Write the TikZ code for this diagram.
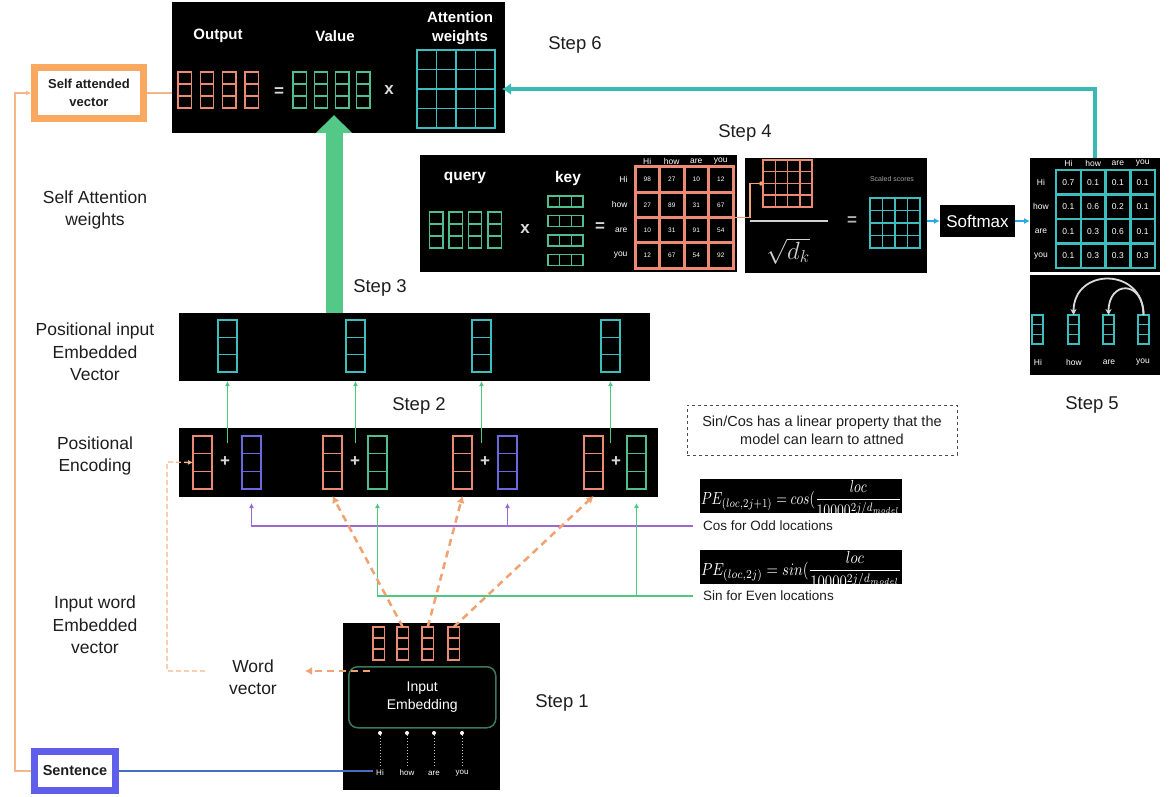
\documentclass[tikz,border=0pt]{standalone}
\usepackage{fontspec}
\setmainfont{Liberation Sans}
\usepackage{graphicx}
\usetikzlibrary{arrows.meta,calc}
\definecolor{salmon}{RGB}{236,138,115}
\definecolor{mint}{RGB}{80,190,140}
\definecolor{tealc}{RGB}{60,190,190}
\definecolor{bluev}{RGB}{105,105,225}
\definecolor{orangeb}{RGB}{249,168,96}
\definecolor{orangel}{RGB}{246,182,140}
\definecolor{orangd}{RGB}{240,162,112}
\definecolor{sentb}{RGB}{95,95,235}
\definecolor{bline}{RGB}{70,110,190}
\definecolor{purp}{RGB}{155,105,210}
\definecolor{gline}{RGB}{80,200,130}
\definecolor{bigg}{RGB}{84,201,135}
\definecolor{cyanc}{RGB}{40,170,226}
\definecolor{tline}{RGB}{58,184,178}
\definecolor{txt}{RGB}{30,30,30}
\definecolor{embg}{RGB}{60,120,90}

\newcommand{\myvv}[6]{%
  \node[draw=#6, line width=1.3pt, inner sep=0pt, outer sep=0pt, minimum width=#4pt, minimum height=#5pt, anchor=north west] (#1) at (#2,#3) {};
  \draw[#6, line width=1.3pt] ($(#1.north west)!0.3333!(#1.south west)$) -- ($(#1.north east)!0.3333!(#1.south east)$);
  \draw[#6, line width=1.3pt] ($(#1.north west)!0.6667!(#1.south west)$) -- ($(#1.north east)!0.6667!(#1.south east)$);
}
\newcommand{\myhv}[6]{%
  \node[draw=#6, line width=1.3pt, inner sep=0pt, outer sep=0pt, minimum width=#4pt, minimum height=#5pt, anchor=north west] (#1) at (#2,#3) {};
  \draw[#6, line width=1.3pt] ($(#1.north west)!0.3333!(#1.north east)$) -- ($(#1.south west)!0.3333!(#1.south east)$);
  \draw[#6, line width=1.3pt] ($(#1.north west)!0.6667!(#1.north east)$) -- ($(#1.south west)!0.6667!(#1.south east)$);
}
\newcommand{\mygrid}[7]{%
  \node[draw=#6, line width=#7pt, inner sep=0pt, outer sep=0pt, minimum width=#4pt, minimum height=#5pt, anchor=north west] (#1) at (#2,#3) {};
  \foreach \t in {0.25,0.5,0.75}{%
    \draw[#6, line width=#7pt] ($(#1.north west)!\t!(#1.north east)$) -- ($(#1.south west)!\t!(#1.south east)$);
    \draw[#6, line width=#7pt] ($(#1.north west)!\t!(#1.south west)$) -- ($(#1.north east)!\t!(#1.south east)$);
  }%
}

\tikzset{
  blk/.style={fill=black, draw=none, inner sep=0pt, outer sep=0pt, anchor=north west},
  lbl/.style={font=\fontsize{17.5}{22.5}\selectfont, align=center, text=txt},
  steplbl/.style={font=\fontsize{18.5}{22}\selectfont, text=txt},
  wlbl/.style={font=\bfseries\fontsize{15}{19}\selectfont, text=white, align=center},
  sym/.style={font=\bfseries\fontsize{17}{19}\selectfont, text=white!85!black},
  smw/.style={font=\fontsize{8.5}{10}\selectfont, text=white},
  num/.style={font=\fontsize{6.5}{8}\selectfont, text=white},
  thinarrow/.style={line width=1.3pt, -{Latex[length=5pt,width=5pt]}},
  odash/.style={orangd, line width=2.5pt, dash pattern=on 7pt off 5pt, -{Latex[length=7pt,width=8pt]}},
  formtxt/.style={text=white, inner sep=0pt, outer sep=0pt, anchor=north west},
}

\begin{document}
\begin{tikzpicture}[x=1pt,y=-1pt]
\fill[white] (0,0) rectangle (1176,797);
\useasboundingbox (0,0) rectangle (1176,797);

% ---------- Step 6 box ----------
\node[blk, minimum width=333pt, minimum height=131pt] (top) at (172,2) {};
\node[wlbl] (tout) at (218,36) {Output};
\node[wlbl] (tval) at (335,36) {Value};
\node[wlbl] (tatt) at (460,28) {Attention\\weights};
\foreach \i in {0,...,3}{%
  \pgfmathsetmacro{\xx}{178+22.3*\i}
  \myvv{ov\i}{\xx}{72}{13.5}{36}{salmon}
  \pgfmathsetmacro{\xv}{293+21.2*\i}
  \myvv{vv\i}{\xv}{72}{13.5}{36}{mint}
}
\node[sym] (teq) at (279,92) {=};
\node[sym] (tx) at (389,90) {x};
\mygrid{attw}{417}{50}{78}{78}{tealc}{1.8}
\node[steplbl] (st6) at (575,45) {Step 6};

% ---------- left labels / boxes ----------
\node[draw=orangeb, line width=7pt, fill=white, minimum width=109pt, minimum height=51pt, inner sep=0pt, font=\bfseries\fontsize{13}{18}\selectfont, align=center, text=txt] (sav) at (89,93) {Self attended\\vector};
\node[draw=sentb, line width=7pt, fill=white, minimum width=81pt, minimum height=39pt, inner sep=0pt, font=\bfseries\fontsize{14.5}{17}\selectfont, text=txt] (sen) at (75,771) {Sentence};
\node[lbl] (saw) at (95,210) {Self Attention\\weights};
\node[lbl] (pil) at (95,352) {Positional input\\Embedded\\Vector};
\node[lbl] (pel) at (95,456) {Positional\\Encoding};
\node[lbl] (iwl) at (95,625) {Input word\\Embedded\\vector};
\node[lbl] (wv) at (253,677) {Word\\vector};

% ---------- Step 4 ----------
\node[blk, minimum width=317pt, minimum height=117pt] (s4a) at (420,155) {};
\node[wlbl, font=\bfseries\fontsize{15.5}{18}\selectfont] (qry) at (465,178) {query};
\node[wlbl, font=\bfseries\fontsize{15.5}{18}\selectfont] (key) at (568,178) {key};
\foreach \i in {0,...,3}{%
  \pgfmathsetmacro{\xq}{429.7+19.4*\i}
  \myvv{q\i}{\xq}{212}{13.3}{36}{mint}
  \pgfmathsetmacro{\yk}{196+19.5*\i}
  \myhv{k\i}{548}{\yk}{35}{11}{mint}
}
\node[sym] (s4x) at (525,229) {x};
\node[sym] (s4eq) at (600,227) {=};
\mygrid{pm}{635}{167}{98}{101}{salmon}{3}
\foreach \w [count=\k from 0] in {Hi,how,are,you}{%
  \node[smw, anchor=east] (pr\k) at (631,{167+(\k+0.5)*25.25}) {\w};
  \node[smw] (pc\k) at ({635+(\k+0.5)*24.5},161) {\w};
}
\foreach \v [count=\k from 0] in {98,27,10,12,27,89,31,67,10,31,91,54,12,67,54,92}{%
  \pgfmathtruncatemacro{\r}{\k/4}
  \pgfmathtruncatemacro{\c}{mod(\k,4)}
  \node[num] (pmn\k) at ({635+(\c+0.5)*24.5},{167+(\r+0.5)*25.25}) {\v};
}
\node[blk, minimum width=182pt, minimum height=115pt] (s4b) at (745,158) {};
\mygrid{spm}{763}{160}{49}{47}{salmon}{1.5}
\draw[gray!35, line width=2pt] (750,221) -- (828,221);
\node[text=gray!35, font=\fontsize{27}{30}\selectfont] (sqd) at (788,251) {$\sqrt{d_k}$};
\node[sym, text=gray!60] (s4beq) at (852,221) {=};
\node[text=gray!70, font=\fontsize{7}{8}\selectfont] (ssl) at (892,179) {Scaled scores};
\mygrid{sst}{870}{198}{50}{50}{tealc}{1.5}
\draw[orangd, line width=1.5pt, -{Circle[length=4pt]}] (pm.east) -- ++(17,0) |- (spm.west);
\node[steplbl] (st4) at (745,133) {Step 4};

% ---------- Softmax ----------
\node[fill=black, text=white, font=\fontsize{17}{20}\selectfont, minimum width=75pt, minimum height=32pt, inner sep=0pt] (smx) at (977.5,221) {Softmax};

% ---------- Step 5 ----------
\node[blk, minimum width=130pt, minimum height=114pt] (s5a) at (1030,158) {};
\mygrid{am}{1056}{170}{99}{98}{tealc}{2.5}
\foreach \w [count=\k from 0] in {Hi,how,are,you}{%
  \node[smw] (ar\k) at (1041,{170+(\k+0.5)*24.5}) {\w};
  \node[smw] (ac\k) at ({1056+(\k+0.5)*24.75},163) {\w};
}
\foreach \v [count=\k from 0] in {0.7,0.1,0.1,0.1,0.1,0.6,0.2,0.1,0.1,0.3,0.6,0.1,0.1,0.3,0.3,0.3}{%
  \pgfmathtruncatemacro{\r}{\k/4}
  \pgfmathtruncatemacro{\c}{mod(\k,4)}
  \node[smw] (amn\k) at ({1056+(\c+0.5)*24.75},{170+(\r+0.5)*24.5}) {\v};
}
\node[blk, minimum width=130pt, minimum height=100pt] (s5b) at (1030,275) {};
\myvv{b5v1}{1032}{315}{11}{29}{tealc}
\myvv{b5v2}{1068}{315}{11}{29}{tealc}
\myvv{b5v3}{1103}{315}{11}{29}{tealc}
\myvv{b5v4}{1138}{315}{11}{29}{tealc}
\node[smw] (b5w1) at (1038,362) {Hi};
\node[smw] (b5w2) at (1074,362) {how};
\node[smw] (b5w3) at (1109,362) {are};
\node[smw] (b5w4) at (1143,362) {you};
\draw[white!85!black, line width=1.8pt, -{Stealth[length=6pt,width=6pt]}] (b5v4.north) .. controls (1143.5,267) and (1073.5,267) .. (b5v2.north);
\draw[white!85!black, line width=1.8pt, -{Stealth[length=6pt,width=6pt]}] (b5v4.north) .. controls (1143.5,280) and (1108.5,280) .. (b5v3.north);
\node[steplbl] (st5) at (1092,405) {Step 5};

% ---------- Positional input embedded vector ----------
\node[blk, minimum width=471pt, minimum height=68pt] (pie) at (179,313) {};
\myvv{pv1}{218}{320}{19}{52}{tealc}
\myvv{pv2}{346}{320}{19}{52}{tealc}
\myvv{pv3}{472}{320}{19}{52}{tealc}
\myvv{pv4}{601}{320}{19}{52}{tealc}
\node[steplbl] (st3) at (380,288) {Step 3};
\node[steplbl] (st2) at (419,406) {Step 2};

% ---------- Positional encoding ----------
\node[blk, minimum width=479pt, minimum height=69pt] (pe) at (179,428) {};
\myvv{sv1}{193}{436}{19}{53}{salmon}
\myvv{sv2}{323}{436}{19}{53}{salmon}
\myvv{sv3}{453}{436}{19}{53}{salmon}
\myvv{sv4}{584}{436}{19}{53}{salmon}
\myvv{bv1}{242}{436}{19}{53}{bluev}
\myvv{gv2}{368}{436}{19}{53}{mint}
\myvv{bv3}{498}{436}{19}{53}{bluev}
\myvv{gv4}{627}{436}{19}{53}{mint}
\node[sym] (pl1) at (225,462) {+};
\node[sym] (pl2) at (355,462) {+};
\node[sym] (pl3) at (485,462) {+};
\node[sym] (pl4) at (616,462) {+};

% ---------- notes / formulas ----------
\node[draw=gray!60!black, dashed, line width=0.9pt, minimum width=270pt, minimum height=50pt, align=center, font=\fontsize{14.5}{18}\selectfont, text=txt] (note) at (822,430) {Sin/Cos has a linear property that the\\model can learn to attned};
\node[blk, minimum width=202pt, minimum height=34pt] (f1) at (700,479) {};
\node[blk, minimum width=202pt, minimum height=34pt] (f2) at (700,550) {};
\begin{scope}
  \clip (700,479) rectangle (902,513);
  \node[formtxt] (f1t) at (701,480) {\resizebox{206pt}{24pt}{$\displaystyle PE_{(loc,2j+1)}=cos(\frac{loc}{10000^{2j/d_{model}}})$}};
\end{scope}
\begin{scope}
  \clip (700,550) rectangle (902,584);
  \node[formtxt] (f2t) at (701,551) {\resizebox{206pt}{24pt}{$\displaystyle PE_{(loc,2j)}=sin(\frac{loc}{10000^{2j/d_{model}}})$}};
\end{scope}
\node[anchor=west, font=\fontsize{13.5}{16}\selectfont, text=txt, inner sep=0pt] (cosl) at (703,526) {Cos for Odd locations};
\node[anchor=west, font=\fontsize{13.5}{16}\selectfont, text=txt, inner sep=0pt] (sinl) at (703,596) {Sin for Even locations};

% ---------- Step 1 ----------
\node[blk, minimum width=157pt, minimum height=167pt] (s1) at (343,623) {};
\myvv{ev1}{373}{627}{11.5}{33}{salmon}
\myvv{ev2}{397}{627}{11.5}{33}{salmon}
\myvv{ev3}{422}{627}{11.5}{33}{salmon}
\myvv{ev4}{448}{627}{11.5}{33}{salmon}
\node[draw=embg, line width=1.5pt, rounded corners=9pt, minimum width=147pt, minimum height=61pt, anchor=north west, text=white, font=\fontsize{14}{18.5}\selectfont, align=center, inner sep=0pt] (emb) at (348,666) {Input\\Embedding};
\foreach \w/\x [count=\k] in {Hi/380,how/407,are/434,you/462}{%
  \node[text=white, font=\fontsize{8}{9}\selectfont] (w\k) at (\x,773) {\w};
  \node[circle, fill=white, inner sep=0pt, minimum size=4pt] (d\k) at (\x,733) {};
  \draw[white!75!black, dotted, line width=1pt] (d\k) -- (w\k);
}
\node[steplbl] (st1) at (562,703) {Step 1};

% ---------- connectors ----------
\draw[orangel, line width=1.3pt] (sav.east) -- (sav.east -| top.west);
\draw[orangel, thinarrow] (sen.west) -| ([xshift=-16pt]sav.west) -- (sav.west);
\draw[bline, line width=1.3pt] (sen.east) -- (sen.east -| w1.west);

\coordinate (gx) at (334,0);
\draw[bigg, line width=17pt, -{Triangle[length=18pt,width=35pt]}] (gx |- pie.north) -- ($(gx |- top.south)+(0,-18)$);

\draw[tline, line width=3.5pt, -{Latex[length=9pt,width=12pt]}] (s5a.north) |- ([xshift=7pt]attw.east);
\draw[cyanc, line width=1.5pt, -{Latex[length=6pt,width=6pt]}] (s4b.east |- smx.west) -- (smx.west);
\draw[cyanc, line width=1.5pt, -{Latex[length=6pt,width=6pt]}] (smx.east) -- (smx.east -| s5a.west);

\coordinate (psy) at (0,443);
\foreach \n in {1,2,3,4}{%
  \draw[gline, thinarrow] (pv\n.south |- psy) -- (pv\n.south |- pie.south);
}

\draw[purp, thinarrow] ([xshift=-10pt]cosl.west) -| ([yshift=-14pt]bv1.south);
\draw[purp, thinarrow] (bv3.south |- cosl.west) -- ([yshift=-14pt]bv3.south);
\draw[gline, thinarrow] ([xshift=-10pt]sinl.west) -| ([yshift=-14pt]gv2.south);
\draw[gline, thinarrow] (gv4.south |- sinl.west) -- ([yshift=-14pt]gv4.south);

\draw[odash] (ev2.north) -- ([yshift=-7pt]sv2.south);
\draw[odash] (ev3.north) -- ([yshift=-7pt]sv3.south);
\draw[odash] (ev4.north) -- ([yshift=-7pt]sv4.south);

\coordinate (wvr) at (305,671);
\draw[odash] ([shift={(22,5)}]emb.north west) -- (wvr);
\coordinate (wvl) at (205,671);
\coordinate (olc) at (167,462);
\draw[orangel, line width=1.3pt, dash pattern=on 5pt off 3pt, -{Latex[length=5pt,width=5pt]}] (wvl) -| (olc) -- (sv1.west);
\end{tikzpicture}
\end{document}
